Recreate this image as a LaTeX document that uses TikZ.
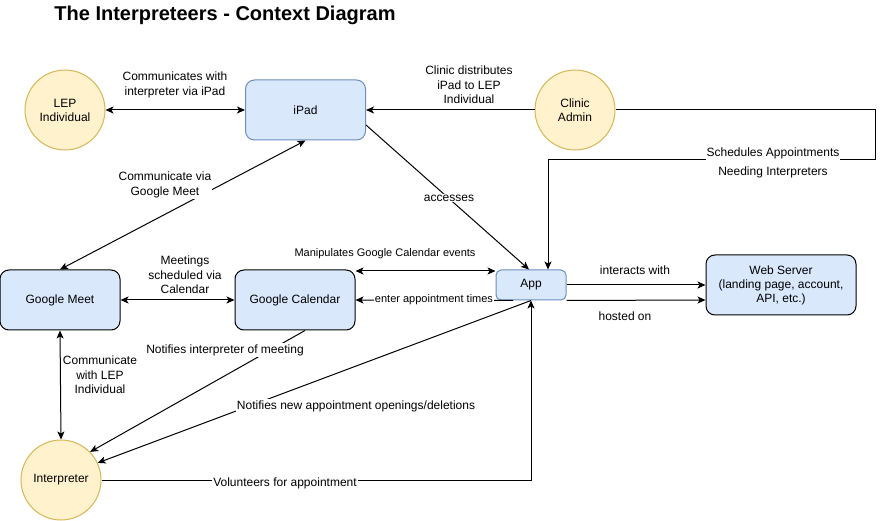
\documentclass[tikz,border=0pt]{standalone}
\usepackage{fontspec}
\setmainfont{Liberation Sans}
\usetikzlibrary{arrows.meta}
\definecolor{actorfill}{HTML}{FFF2CC}
\definecolor{actordraw}{HTML}{D6B656}
\definecolor{boxfill}{HTML}{DAE8FC}
\definecolor{boxdraw}{HTML}{6C8EBF}
\tikzset{
  actor/.style={circle, fill=actorfill, draw=actordraw, line width=1pt, minimum size=80pt, inner sep=0pt, align=center, font=\fontsize{12}{14}\selectfont},
  sysbox/.style={rectangle, rounded corners=9pt, fill=boxfill, draw=black, line width=1pt, minimum width=120pt, minimum height=60pt, inner sep=0pt, align=center, font=\fontsize{12}{14}\selectfont},
  appbox/.style={sysbox, draw=boxdraw},
  line/.style={draw=black, line width=1pt},
  arr/.style={line, -{Stealth[length=8pt,width=7pt,inset=2pt]}},
  darr/.style={line, {Stealth[length=8pt,width=7pt,inset=2pt]}-{Stealth[length=8pt,width=7pt,inset=2pt]}},
  lbl/.style={font=\fontsize{12}{14.5}\selectfont, align=center, inner sep=1pt},
  wlbl/.style={lbl, fill=white},
  slbl/.style={wlbl, font=\fontsize{11}{13}\selectfont}
}

\begin{document}
\begin{tikzpicture}[x=1pt, y=-1pt]
  \useasboundingbox (0,0) rectangle (884,521);

  \node[font=\bfseries\fontsize{20}{22}\selectfont] (title) at (225,15) {The Interpreteers - Context Diagram};

  % actors
  \node[actor] (lep) at (65,110) {LEP\\Individual};
  \node[actor] (clinic) at (575,110) {Clinic\\Admin};
  \node[actor] (interp) at (61,480) {Interpreter};

  % systems
  \node[appbox] (ipad) at (305.5,110) {iPad};
  \node[sysbox] (gmeet) at (60,300) {Google Meet};
  \node[sysbox] (gcal) at (295,300) {Google Calendar};
  \node[appbox, minimum width=70pt, minimum height=30pt, rounded corners=5pt] (app) at (531,285) {App};
  \node[sysbox, minimum width=150pt] (web) at (781,285) {Web Server\\(landing page, account,\\API, etc.)};

  \coordinate (bend) at (875,160);

  % connectors
  \draw[darr] (lep.east) -- (ipad.west);
  \draw[arr] (clinic.west) -- (ipad.east);
  \draw[darr] (ipad.south) -- (gmeet.north);
  \draw[arr] ([yshift=-15pt]ipad.east) -- ([xshift=-2pt]app.north);
  \draw[arr] (clinic.east) -| (bend) -| ([xshift=17pt]app.north);
  \draw[darr] (gmeet.east) -- (gcal.west);
  \draw[darr] ([yshift=29pt]gcal.east) -- ([yshift=14pt]app.west);
  \draw[arr] ([xshift=-18pt]app.south) -- (gcal.east);
  \draw[arr] (app.east) -- (web.west);
  \draw[arr] (app.south east) -- ([yshift=-15pt]web.west);
  \draw[darr] (gmeet.south) -- (interp.north);
  \draw[arr] ([xshift=10pt]gcal.south) -- (interp.44);
  \draw[arr] (app.south) -- (interp.25);
  \draw[arr] (interp.east) -| (app.south);

  % labels
  \node[lbl] at (175,85) {Communicates with\\interpreter via iPad};
  \node[lbl] at (469,85) {Clinic distributes\\iPad to LEP\\Individual};
  \node[wlbl] at (165,185) {Communicate via\\Google Meet};
  \node[wlbl] at (449,198) {accesses};
  \node[wlbl, font=\fontsize{12}{19}\selectfont] at (773,163) {Schedules Appointments\\Needing Interpreters};
  \node[lbl] at (185,275) {Meetings\\scheduled via\\Calendar};
  \node[slbl, fill=none] at (385,254) {Manipulates Google Calendar events};
  \node[slbl, inner sep=0.5pt] at (434,300) {enter appointment times};
  \node[lbl] at (635,270) {interacts with};
  \node[lbl] at (625,316) {hosted on};
  \node[wlbl] at (225,350) {Notifies interpreter of meeting};
  \node[lbl] at (100,375) {Communicate\\with LEP\\Individual};
  \node[wlbl] at (356,406) {Notifies new appointment openings/deletions};
  \node[wlbl] at (285,483) {Volunteers for appointment};
\end{tikzpicture}
\end{document}
